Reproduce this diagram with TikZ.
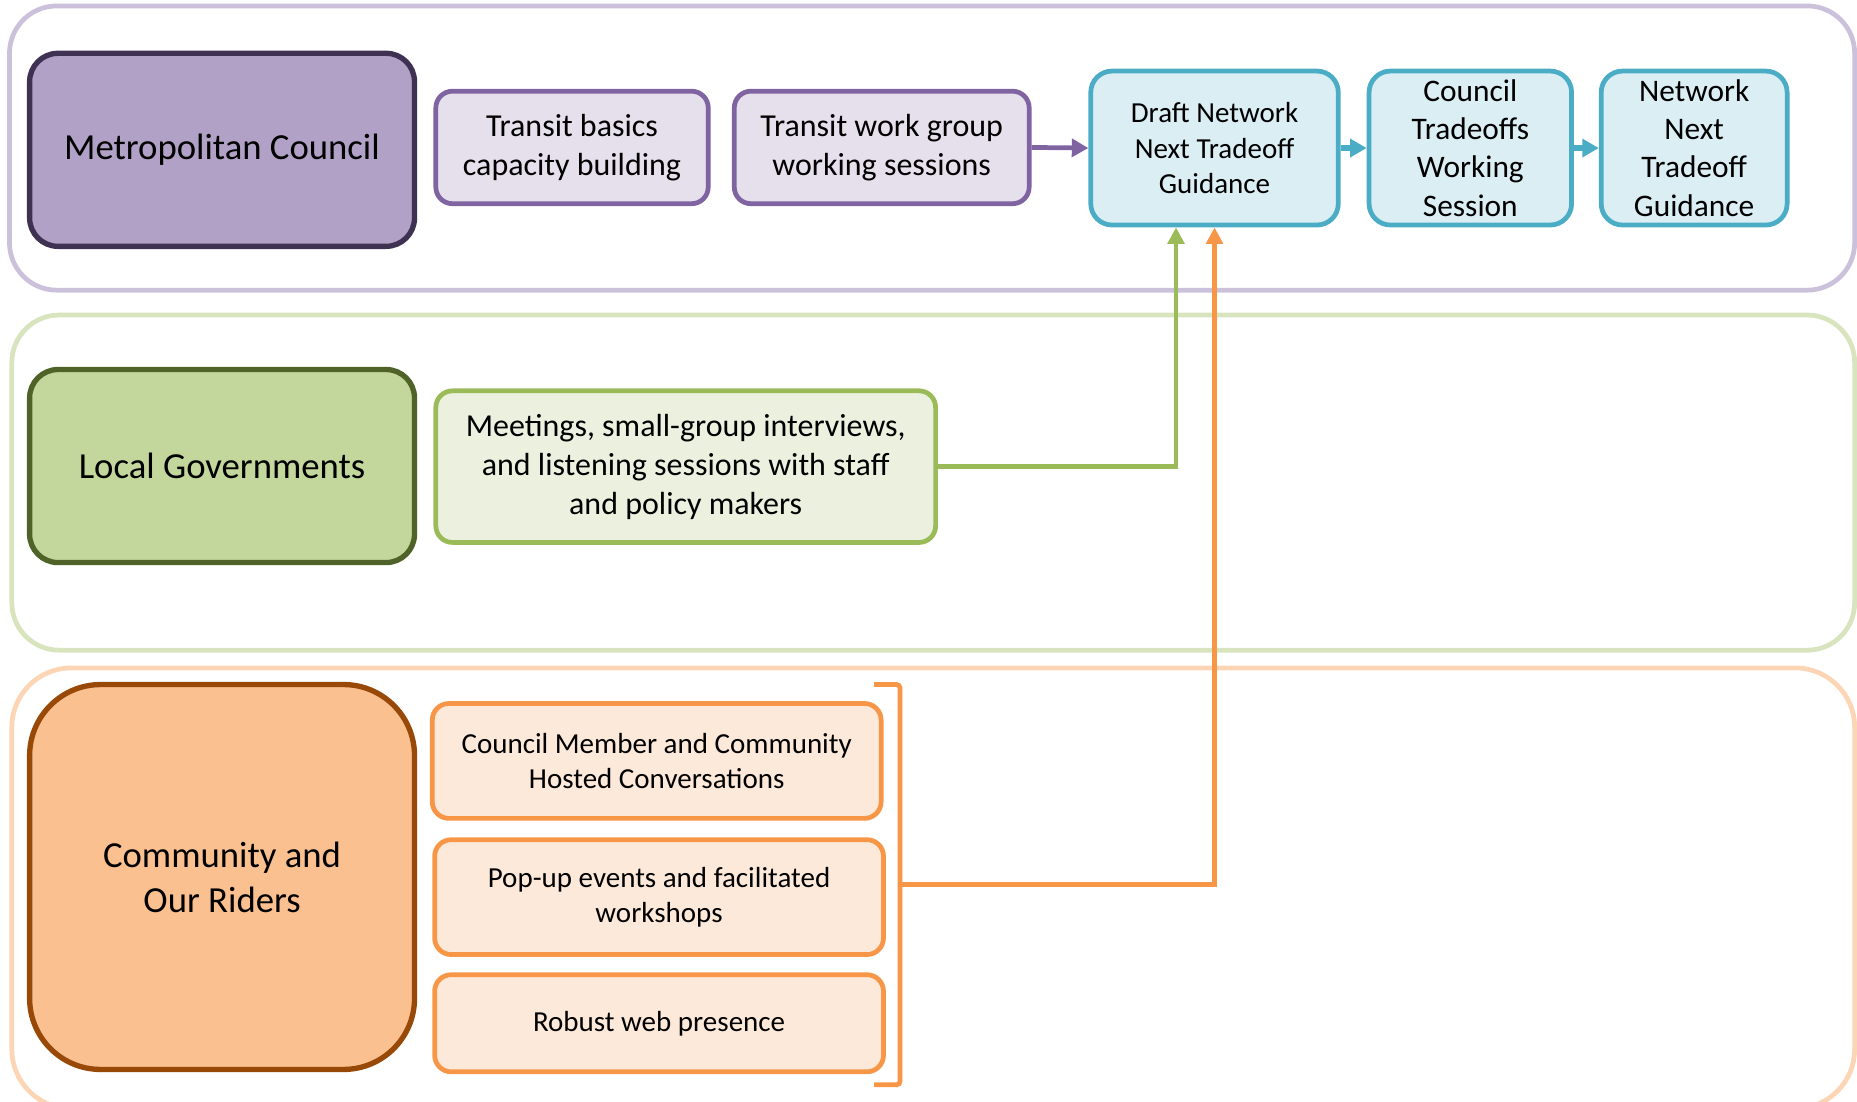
\documentclass[tikz,border=0pt]{standalone}
\usepackage{fontspec}
\setmainfont{Carlito}
\usetikzlibrary{arrows.meta}
\definecolor{laneA}{HTML}{CCC1DA}
\definecolor{laneB}{HTML}{D7E4BD}
\definecolor{laneC}{HTML}{FCD5B5}
\definecolor{mcfill}{HTML}{B2A1C7}
\definecolor{mcline}{HTML}{3F3151}
\definecolor{pfill}{HTML}{E5E0EC}
\definecolor{pline}{HTML}{8064A2}
\definecolor{cfill}{HTML}{DBEEF4}
\definecolor{cline}{HTML}{4BACC6}
\definecolor{lgfill}{HTML}{C3D69B}
\definecolor{lgline}{HTML}{4F6228}
\definecolor{gfill}{HTML}{EBF1DE}
\definecolor{gline}{HTML}{9BBB59}
\definecolor{cmfill}{HTML}{FAC090}
\definecolor{cmline}{HTML}{984807}
\definecolor{ofill}{HTML}{FDE9D9}
\definecolor{oline}{HTML}{F79646}
\begin{document}
\begin{tikzpicture}[x=1pt,y=-1pt,
  lane/.style={draw, line width=4pt, rounded corners=40pt, inner sep=0pt, outer sep=0pt},
  hdr/.style={draw, line width=4.5pt, rounded corners=24pt, align=center, inner sep=0pt, text=black, font=\fontsize{31}{38}\selectfont},
  sub/.style={draw, line width=4pt, rounded corners=14pt, align=center, inner sep=0pt, text=black},
  conn/.style={line width=4pt},
  bigtip/.style={-{Triangle[length=14pt,width=15pt]}},
  smalltip/.style={-{Triangle[length=14pt,width=14pt]}}
]
\useasboundingbox (0,0) rectangle (1568,930);
% lanes
\node[lane, draw=laneA, minimum width=1558pt, minimum height=240pt] (laneMC) at (787,125) {};
\node[lane, draw=laneB, minimum width=1556pt, minimum height=283pt] (laneLG) at (788,407.5) {};
\node[lane, draw=laneC, rounded corners=50pt, minimum width=1556pt, minimum height=372pt] (laneCM) at (788,750) {};
% Metropolitan Council row
\node[hdr, fill=mcfill, draw=mcline, minimum width=325pt, minimum height=163pt] (mc) at (187.5,126.5) {Metropolitan Council};
\node[sub, fill=pfill, draw=pline, minimum width=230pt, minimum height=95pt, font=\fontsize{27}{33}\selectfont] (basics) at (483,124.5) {Transit basics\\capacity building};
\node[sub, fill=pfill, draw=pline, minimum width=249pt, minimum height=95pt, font=\fontsize{27}{33}\selectfont] (work) at (744.5,124.5) {Transit work group\\working sessions};
\node[sub, fill=cfill, draw=cline, rounded corners=18pt, minimum width=209pt, minimum height=130pt, font=\fontsize{24.5}{30}\selectfont] (draft) at (1025.5,125) {Draft Network\\Next Tradeoff\\Guidance};
\node[sub, fill=cfill, draw=cline, rounded corners=18pt, minimum width=171pt, minimum height=130pt, font=\fontsize{26.5}{32.3}\selectfont] (ctw) at (1241.5,125) {Council\\Tradeoffs\\Working\\Session};
\node[sub, fill=cfill, draw=cline, rounded corners=18pt, minimum width=157pt, minimum height=130pt, font=\fontsize{26.5}{32.3}\selectfont] (nntg) at (1430.5,125) {Network\\Next\\Tradeoff\\Guidance};
% Local Governments row
\node[hdr, fill=lgfill, draw=lgline, minimum width=325pt, minimum height=163pt] (lg) at (187.5,393.5) {Local Governments};
\node[sub, fill=gfill, draw=gline, minimum width=422pt, minimum height=128pt, font=\fontsize{27}{33}\selectfont] (meet) at (579,394) {Meetings, small-group interviews,\\and listening sessions with staff\\and policy makers};
% Community row
\node[hdr, fill=cmfill, draw=cmline, rounded corners=60pt, minimum width=325pt, minimum height=325pt] (cm) at (187.5,740.5) {Community and\\Our Riders};
\node[sub, fill=ofill, draw=oline, minimum width=379pt, minimum height=97pt, font=\fontsize{24.5}{30}\selectfont] (hosted) at (554.5,642.5) {Council Member and Community\\Hosted Conversations};
\node[sub, fill=ofill, draw=oline, minimum width=379pt, minimum height=97pt, font=\fontsize{24.5}{30}\selectfont] (popup) at (556.5,757.5) {Pop-up events and facilitated\\workshops};
\node[sub, fill=ofill, draw=oline, minimum width=379pt, minimum height=82pt, font=\fontsize{24.5}{30}\selectfont] (web) at (556.5,864) {Robust web presence};
% bracket
\coordinate (brtop) at (738,578);
\coordinate (brbot) at (738,916);
\coordinate (brmid) at (760,747);
\draw[oline, line width=4pt, rounded corners=3pt] (brtop) -- (760,578) -- (760,916) -- (brbot);
% connectors
\draw[conn, pline, bigtip] (work.east) -- (draft.west);
\draw[conn, cline, line width=4.5pt, bigtip] (draft.east) -- (ctw.west);
\draw[conn, cline, line width=4.5pt, bigtip] (ctw.east) -- (nntg.west);
\draw[conn, gline, smalltip] (meet.east) -| ([xshift=-32.5pt]draft.south);
\draw[conn, oline, smalltip] (brmid) -| (draft.south);
\end{tikzpicture}
\end{document}
